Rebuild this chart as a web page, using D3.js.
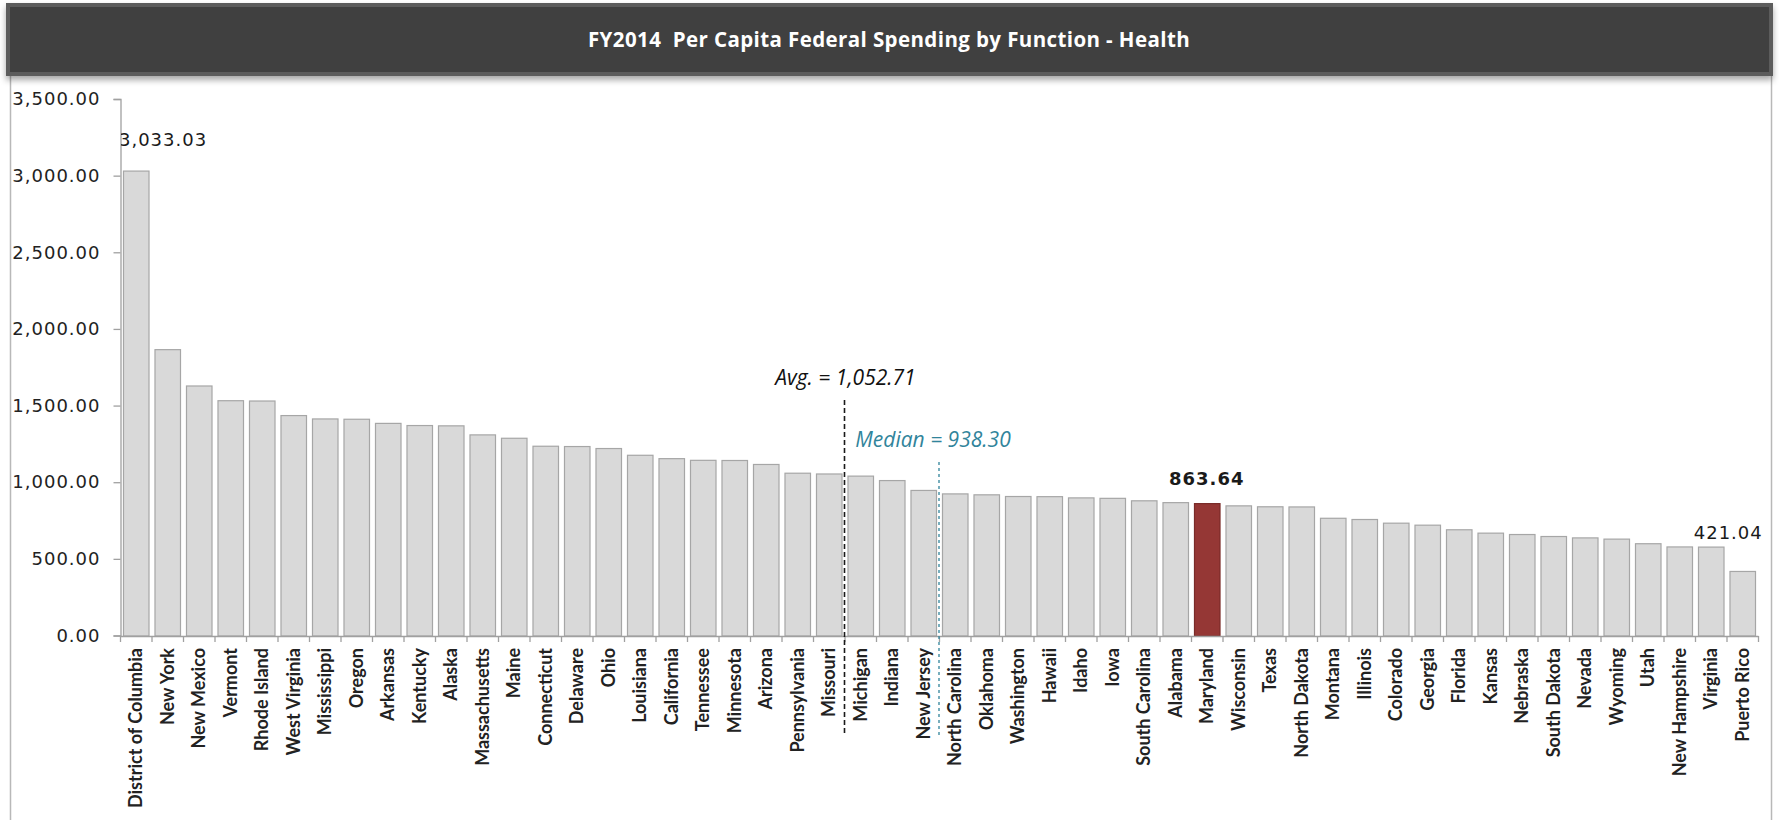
<!DOCTYPE html>
<html>
<head>
<meta charset="utf-8">
<script src="https://cdn.jsdelivr.net/npm/d3@7"></script>
<style>
  body { margin: 0; background: #fff; }
  svg { display: block; }
</style>
</head>
<body>
<svg id="chart"></svg>
<script>
var states = ['District of Columbia', 'New York', 'New Mexico', 'Vermont', 'Rhode Island',
  'West Virginia', 'Mississippi', 'Oregon', 'Arkansas', 'Kentucky', 'Alaska', 'Massachusetts',
  'Maine', 'Connecticut', 'Delaware', 'Ohio', 'Louisiana', 'California', 'Tennessee',
  'Minnesota', 'Arizona', 'Pennsylvania', 'Missouri', 'Michigan', 'Indiana', 'New Jersey',
  'North Carolina', 'Oklahoma', 'Washington', 'Hawaii', 'Idaho', 'Iowa', 'South Carolina',
  'Alabama', 'Maryland', 'Wisconsin', 'Texas', 'North Dakota', 'Montana', 'Illinois',
  'Colorado', 'Georgia', 'Florida', 'Kansas', 'Nebraska', 'South Dakota', 'Nevada',
  'Wyoming', 'Utah', 'New Hampshire', 'Virginia', 'Puerto Rico'];

var spending = [3033.03, 1868, 1631, 1535, 1533, 1438, 1416, 1414, 1387, 1373, 1371, 1312,
  1290, 1238, 1236, 1223, 1179, 1157, 1146, 1145, 1119, 1062, 1057, 1043, 1014, 949.6,
  927, 921, 910, 909, 901, 898, 882, 870, 863.64, 849, 843, 842, 768, 760,
  736, 723, 693, 671, 662, 649, 640, 632, 602, 581, 580, 421.04];

var yTicks = [0, 500, 1000, 1500, 2000, 2500, 3000, 3500];
var avgValue = 1052.71;
var medianValue = 938.30;
var highlightState = 'Maryland';
var labelledStates = ['District of Columbia', 'Maryland', 'Puerto Rico'];
var title = 'FY2014  Per Capita Federal Spending by Function - Health';

var width = 1779;
var height = 820;
var plotLeft = 120, plotRight = 1758, plotTop = 99, plotBottom = 635.5;

var data = states.map(function(s, i) { return { state: s, value: spending[i] }; });
var fmt = d3.format(',.2f');

var svg = d3.select('#chart')
  .attr('width', width)
  .attr('height', height);

svg.append('rect')
  .attr('width', width)
  .attr('height', height)
  .attr('fill', '#fff');

var defs = svg.append('defs');
var shadow = defs.append('filter')
  .attr('id', 'shadow')
  .attr('x', '-2%').attr('y', '-30%')
  .attr('width', '104%').attr('height', '180%');
shadow.append('feDropShadow')
  .attr('dx', 0).attr('dy', 4)
  .attr('stdDeviation', 3)
  .attr('flood-color', '#000')
  .attr('flood-opacity', 0.35);

defs.append('clipPath')
  .attr('id', 'plotclip')
  .append('rect')
  .attr('x', plotLeft + 1).attr('y', 0)
  .attr('width', width - plotLeft).attr('height', height);

// outer frame of the chart
svg.append('rect')
  .attr('x', 10.5).attr('y', 60.5)
  .attr('width', 1761).attr('height', 800)
  .attr('fill', 'none')
  .attr('stroke', '#b8b8b8')
  .attr('stroke-width', 1.5);

// title bar
svg.append('rect')
  .attr('x', 8).attr('y', 5)
  .attr('width', 1763).attr('height', 69)
  .attr('fill', '#404040')
  .attr('stroke', '#5c5c5c')
  .attr('stroke-width', 4)
  .attr('filter', 'url(#shadow)');

svg.append('text')
  .attr('x', 889)
  .attr('y', 47)
  .attr('text-anchor', 'middle')
  .attr('fill', '#fff')
  .style('font-family', '"Open Sans", Lato, sans-serif')
  .style('font-weight', 'bold')
  .style('font-size', '20.5px')
  .style('letter-spacing', '0.4px')
  .style('white-space', 'pre')
  .text(title);

var x = d3.scaleBand()
  .domain(states)
  .range([plotLeft, plotRight])
  .paddingInner(0.19)
  .paddingOuter(0.095);

var y = d3.scaleLinear()
  .domain([0, 3500])
  .range([plotBottom, plotTop]);

// bars
svg.append('g')
  .selectAll('rect')
  .data(data)
  .enter()
  .append('rect')
  .attr('x', d => x(d.state) + 0.5)
  .attr('y', d => y(d.value) + 0.5)
  .attr('width', x.bandwidth())
  .attr('height', d => plotBottom - y(d.value))
  .attr('fill', d => d.state === highlightState ? '#953735' : '#d9d9d9')
  .attr('stroke', d => d.state === highlightState ? '#7a2b29' : '#a6a6a6')
  .attr('stroke-width', 1.2);

// y axis
var yAxis = svg.append('g')
  .attr('transform', 'translate(' + (plotLeft + 0.5) + ',0)')
  .call(d3.axisLeft(y).tickValues(yTicks).tickFormat(fmt).tickSize(7).tickPadding(13));
yAxis.select('.domain').attr('stroke', '#a0a0a0').attr('stroke-width', 1.3);
yAxis.selectAll('.tick line').attr('stroke', '#a0a0a0').attr('stroke-width', 1.3);
yAxis.selectAll('.tick text')
  .attr('fill', '#222')
  .style('font-family', '"DejaVu Sans", Verdana, sans-serif')
  .style('font-size', '18px')
  .style('letter-spacing', '1px');

// x axis
var xAxis = svg.append('g')
  .attr('transform', 'translate(0,' + (plotBottom + 0.5) + ')')
  .call(d3.axisBottom(x).tickSize(0));
xAxis.select('.domain').attr('stroke', '#a0a0a0').attr('stroke-width', 1.3);
xAxis.selectAll('.tick text')
  .attr('transform', 'rotate(-90)')
  .attr('x', -12)
  .attr('y', 0)
  .attr('dy', '0.36em')
  .attr('text-anchor', 'end')
  .attr('fill', '#222')
  .style('font-family', 'Lato, "Open Sans", sans-serif')
  .style('font-weight', 'bold')
  .style('font-size', '18px');

// ticks between categories
var boundaries = d3.range(states.length + 1).map(i => plotLeft + i * x.step());
xAxis.selectAll('.sep')
  .data(boundaries)
  .enter()
  .append('line')
  .attr('class', 'sep')
  .attr('x1', d => d + 0.5).attr('x2', d => d + 0.5)
  .attr('y1', 0).attr('y2', 6)
  .attr('stroke', '#a0a0a0')
  .attr('stroke-width', 1.3);

// average and median markers
function boundaryBefore(state) {
  return x(state) - x.step() * x.paddingInner() / 2;
}
var avgX = boundaryBefore('Michigan');
var medX = boundaryBefore('North Carolina');

svg.append('line')
  .attr('x1', avgX).attr('x2', avgX)
  .attr('y1', 400).attr('y2', 736)
  .attr('stroke', '#1a1a1a')
  .attr('stroke-width', 1.6)
  .attr('stroke-dasharray', '5,3');

svg.append('text')
  .attr('x', avgX + 1)
  .attr('y', 385)
  .attr('text-anchor', 'middle')
  .attr('fill', '#111')
  .style('font-family', '"Open Sans", Lato, sans-serif')
  .style('font-style', 'italic')
  .style('font-size', '21px')
  .text('Avg. = ' + fmt(avgValue));

svg.append('line')
  .attr('x1', medX).attr('x2', medX)
  .attr('y1', 462).attr('y2', 736)
  .attr('stroke', '#31849b')
  .attr('stroke-width', 1.3)
  .attr('stroke-dasharray', '3,3');

svg.append('text')
  .attr('x', medX - 6)
  .attr('y', 447)
  .attr('text-anchor', 'middle')
  .attr('fill', '#31849b')
  .style('font-family', '"Open Sans", Lato, sans-serif')
  .style('font-style', 'italic')
  .style('font-size', '21px')
  .text('Median = ' + fmt(medianValue));

// data labels
var labels = data.filter(d => labelledStates.indexOf(d.state) !== -1);
svg.append('g')
  .attr('clip-path', 'url(#plotclip)')
  .selectAll('text')
  .data(labels)
  .enter()
  .append('text')
  .attr('x', function(d) {
    if (d.state === 'District of Columbia') return x(d.state) - 4;
    if (d.state === 'Puerto Rico') return x(d.state) + x.bandwidth() / 2 - 14;
    return x(d.state) + x.bandwidth() / 2;
  })
  .attr('y', function(d) {
    if (d.state === 'District of Columbia') return y(d.value) - 25;
    if (d.state === 'Puerto Rico') return y(d.value) - 32;
    return y(d.value) - 18;
  })
  .attr('text-anchor', d => d.state === 'District of Columbia' ? 'start' : 'middle')
  .attr('fill', '#1a1a1a')
  .style('font-family', '"DejaVu Sans", Verdana, sans-serif')
  .style('font-size', '18px')
  .style('letter-spacing', '1px')
  .style('font-weight', d => d.state === highlightState ? 'bold' : 'normal')
  .text(d => fmt(d.value));
</script>
</body>
</html>
